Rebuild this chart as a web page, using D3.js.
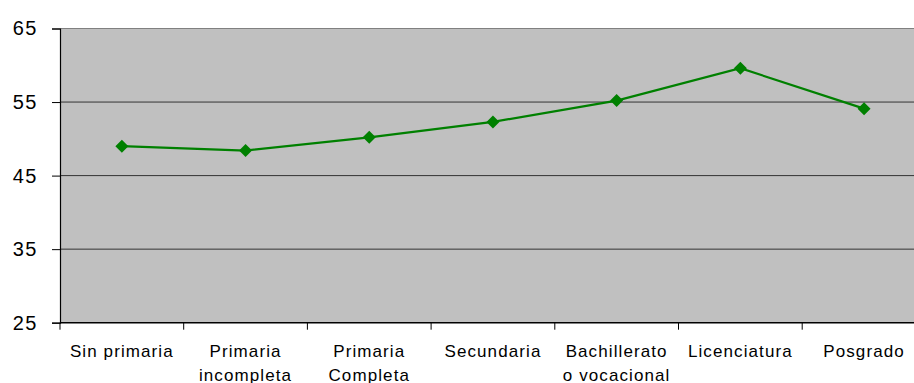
<!DOCTYPE html>
<html>
<head>
<meta charset="utf-8">
<script src="https://cdn.jsdelivr.net/npm/d3@7"></script>
<style>
  html, body { margin: 0; padding: 0; background: #fff; }
  svg { display: block; }
</style>
</head>
<body>
<svg id="chart" width="914" height="383"></svg>
<script>
// Education level categories (line breaks marked with \n)
const categories = [
  "Sin primaria",
  "Primaria\nincompleta",
  "Primaria\nCompleta",
  "Secundaria",
  "Bachillerato\no vocacional",
  "Licenciatura",
  "Posgrado"
];
const values = [49.0, 48.4, 50.2, 52.3, 55.2, 59.6, 54.1];
const yTicks = [25, 35, 45, 55, 65];

const svg = d3.select("#chart");
const plotLeft = 60, plotTop = 28.5, plotBottom = 322.7;
const bandW = 123.7;
const plotRight = plotLeft + bandW * categories.length; // plot area runs past the right edge
const fontFam = "'Liberation Sans', Arial, sans-serif";

const x = d3.scaleBand().domain(categories).range([plotLeft, plotRight]).padding(0);
const y = d3.scaleLinear().domain([25, 65]).range([plotBottom, plotTop]);

// Plot background
svg.append("rect")
  .attr("x", plotLeft).attr("y", plotTop)
  .attr("width", plotRight - plotLeft).attr("height", plotBottom - plotTop)
  .attr("fill", "#c0c0c0");

// Horizontal gridlines
svg.append("g").selectAll("line")
  .data(yTicks.filter(d => d !== 25))
  .join("line")
  .attr("x1", plotLeft).attr("x2", plotRight)
  .attr("y1", d => y(d)).attr("y2", d => y(d))
  .attr("stroke", d => d === 65 ? "#808080" : "#333")
  .attr("stroke-width", 1);

// Y axis
const yAxis = svg.append("g")
  .attr("transform", `translate(${plotLeft},0)`)
  .call(d3.axisLeft(y).tickValues(yTicks).tickSize(8).tickPadding(14));
yAxis.select(".domain").attr("stroke", "#000").attr("stroke-width", 1.2);
yAxis.selectAll(".tick line").attr("stroke", "#000");
yAxis.selectAll("text")
  .attr("font-family", fontFam)
  .attr("font-size", 20)
  .attr("letter-spacing", 1.5)
  .attr("fill", "#000");

// X axis with ticks at band boundaries
const xAxis = svg.append("g").attr("transform", `translate(0,${plotBottom})`);
xAxis.append("line")
  .attr("x1", plotLeft).attr("x2", plotRight)
  .attr("stroke", "#000").attr("stroke-width", 1.5);
xAxis.selectAll(".bt")
  .data(categories)
  .join("line")
  .attr("class", "bt")
  .attr("x1", d => x(d)).attr("x2", d => x(d))
  .attr("y1", 0).attr("y2", 7)
  .attr("stroke", "#000");

const lbl = xAxis.selectAll(".lbl")
  .data(categories)
  .join("text")
  .attr("class", "lbl")
  .attr("text-anchor", "middle")
  .attr("font-family", fontFam)
  .attr("font-size", 17)
  .attr("letter-spacing", 1.1)
  .attr("fill", "#000");
lbl.each(function(d) {
  const t = d3.select(this);
  d.split("\n").forEach((s, i) => {
    t.append("tspan")
      .attr("x", x(d) + x.bandwidth() / 2)
      .attr("y", 34.5 + i * 24)
      .text(s);
  });
});

// Series line
const line = d3.line()
  .x((d, i) => x(categories[i]) + x.bandwidth() / 2)
  .y(d => y(d));
svg.append("path")
  .datum(values)
  .attr("d", line)
  .attr("fill", "none")
  .attr("stroke", "#008000")
  .attr("stroke-width", 2.2);

// Diamond markers
svg.append("g").selectAll("path")
  .data(values)
  .join("path")
  .attr("transform", (d, i) => `translate(${x(categories[i]) + x.bandwidth() / 2},${y(d)})`)
  .attr("d", "M0,-6.5L6.5,0L0,6.5L-6.5,0Z")
  .attr("fill", "#008000");
</script>
</body>
</html>
